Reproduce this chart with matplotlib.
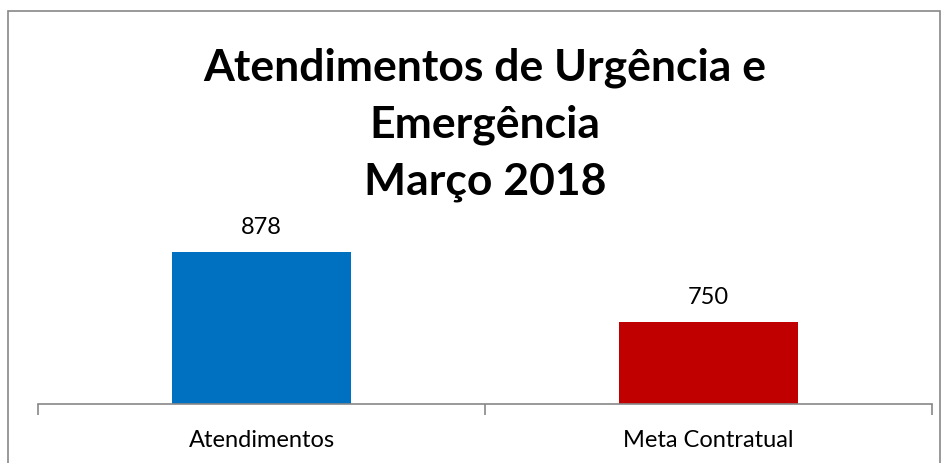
import matplotlib.pyplot as plt
from matplotlib.patches import Rectangle

plt.rcParams['font.family'] = ['Lato', 'DejaVu Sans']

categorias = ['Atendimentos', 'Meta Contratual']
valores = [878, 750]
cores = ['#0070C0', '#C00000']

fig = plt.figure(figsize=(9.47, 4.64), dpi=100)
ax = fig.add_axes([38 / 947, 59 / 464, 894 / 947, 219 / 464])

x = range(len(categorias))
barras = ax.bar(x, valores, width=0.4, color=cores)
for b, v in zip(barras, valores):
    ax.annotate(str(v), (b.get_x() + b.get_width() / 2, v), xytext=(0, 11),
                textcoords='offset points', ha='center', va='bottom', fontsize=17)

ax.set_xlim(-0.5, 1.5)
ax.set_ylim(600, 1000)
ax.set_xticks([-0.5, 0.5, 1.5])
ax.set_xticklabels([])
ax.set_xticks(list(x), categorias, minor=True)
ax.tick_params(axis='x', which='major', length=8, color='#878787', width=1.2, direction='out')
ax.tick_params(axis='x', which='minor', length=0, pad=18, labelsize=17)
ax.set_yticks([])
for s in ['top', 'right', 'left']:
    ax.spines[s].set_visible(False)
ax.spines['bottom'].set_color('#878787')
ax.spines['bottom'].set_linewidth(1.2)

fig.text(485 / 947, 1 - 125 / 464, 'Atendimentos de Urgência e\nEmergência\nMarço 2018',
         ha='center', va='center', fontsize=32, fontweight='bold', linespacing=1.5)

fig.patches.append(Rectangle((8 / 947, -0.05), 932 / 947, 1 - 12 / 464 + 0.05,
                             transform=fig.transFigure, fill=False,
                             edgecolor='#878787', linewidth=1.2))

fig.savefig('out.png', dpi=100)
